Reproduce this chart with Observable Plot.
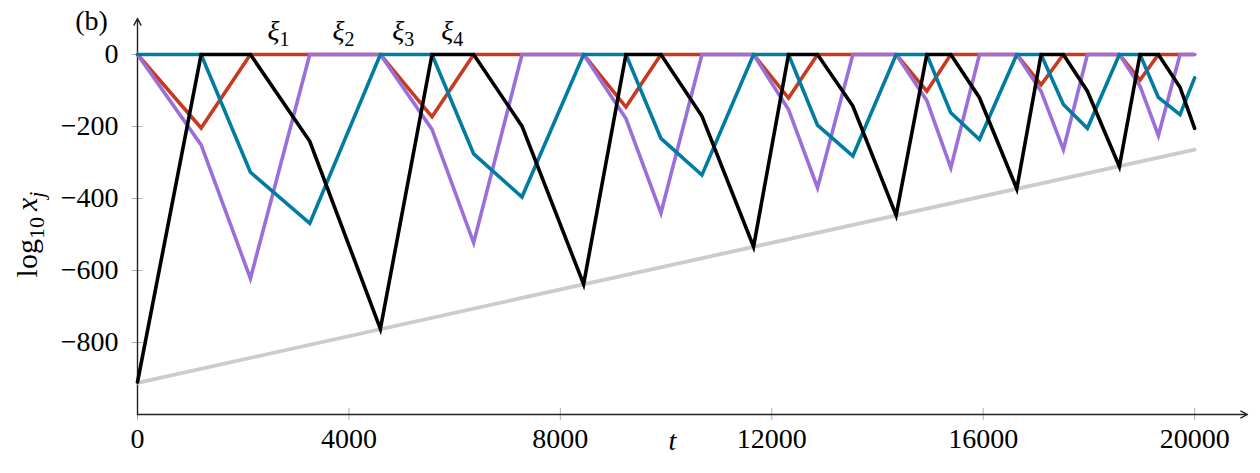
<!DOCTYPE html>
<html>
<head>
<meta charset="utf-8">
<script src="https://cdn.jsdelivr.net/npm/d3@7"></script>
<script src="https://cdn.jsdelivr.net/npm/@observablehq/plot@0.6"></script>
<style>
  html, body { margin: 0; padding: 0; background: #fff; }
  #chart { width: 1260px; height: 473px; }
</style>
</head>
<body>
<div id="chart"></div>
<script>
// Shared event times (switching times) t
const times = [0, 1204, 2136, 3259, 4595, 5572, 6360, 7274, 8440, 9241, 9903, 10678, 11655, 12317, 12865, 13534, 14353, 14933, 15387, 15929, 16635, 17095, 17517, 17971, 18576, 18967, 19314, 19723, 20000];

// log10 x_j values at those times
const xi1 = [0, -204, 0, 0, 0, -173, 0, 0, 0, -146, 0, 0, 0, -121, 0, 0, 0, -102, 0, 0, 0, -84, 0, 0, 0, -71, 0, 0, 0];
const xi2 = [0, -251, -622, 0, 0, -208, -523, 0, 0, -178, -440, 0, 0, -153, -370, 0, 0, -128, -315, 0, 0, -102, -264, 0, 0, -88, -225, 0, 0];
const xi3 = [0, 0, -327, -469, 0, 0, -276, -396, 0, 0, -233, -335, 0, 0, -196, -282, 0, 0, -162, -236, 0, 0, -139, -205, 0, 0, -119, -167, -65];
const xi4 = [-910, 0, 0, -241, -762, 0, 0, -199, -638, 0, 0, -171, -534, 0, 0, -143, -447, 0, 0, -120, -373, 0, 0, -102, -311, 0, 0, -91, -205];

// grey envelope line
const envT = [0, 20000];
const envV = [-912, -264];

const seriesNames = ["ξ1", "ξ2", "ξ3", "ξ4"];
const seriesColors = ["#c83a20", "#9a6fd9", "#007ba1", "#000000"];
const envColor = "#cccccc";

// annotation labels ξ_j above the plot (t, value)
const labelT = [2666, 3895, 5030, 5957];
const labelV = [64, 64, 64, 64];

const xTicks = [0, 4000, 8000, 12000, 16000, 20000];
const yTicks = [0, -200, -400, -600, -800];
const xDomain = [0, 21000];
const yDomain = [-1000, 100];

const FONT = "'Liberation Serif', 'DejaVu Serif', serif";

const allSeries = [xi1, xi2, xi3, xi4];
const rows = [];
allSeries.forEach((vals, k) => {
  vals.forEach((v, i) => rows.push({series: seriesNames[k], t: times[i], v}));
});
const env = envT.map((t, i) => ({t, v: envV[i]}));
const labels = seriesNames.map((s, i) => ({name: s, t: labelT[i], v: labelV[i]}));
const fmt = d => String(d).replace("-", "\u2212");

const plot = Plot.plot({
  width: 1260,
  height: 473,
  marginLeft: 137,
  marginRight: 13,
  marginTop: 18,
  marginBottom: 59,
  style: {fontFamily: FONT, fontSize: "28px", background: "#fff", color: "#000"},
  x: {domain: xDomain, label: null},
  y: {domain: yDomain, label: null},
  marks: [
    // tick marks crossing the axes
    Plot.axisX({ticks: xTicks, tickSize: 12, dy: -6, text: null, stroke: "#b0b0b0", strokeWidth: 1, label: null}),
    Plot.axisY({ticks: yTicks, tickSize: 11, dx: 5.5, text: null, stroke: "#b0b0b0", strokeWidth: 1, label: null}),
    // tick labels
    Plot.axisX({ticks: xTicks, tickSize: 0, tickPadding: 14, tickFormat: fmt, label: null, fontSize: 28}),
    Plot.axisY({ticks: yTicks, tickSize: 0, tickPadding: 19, tickFormat: fmt, label: null, fontSize: 28}),
    // axis lines with arrow heads
    Plot.arrow([{x1: xDomain[0], y1: yDomain[0], x2: xDomain[1], y2: yDomain[0]}],
      {x1: "x1", y1: "y1", x2: "x2", y2: "y2", stroke: "#222", strokeWidth: 1.4, headLength: 8, headAngle: 55}),
    Plot.arrow([{x1: xDomain[0], y1: yDomain[0], x2: xDomain[0], y2: yDomain[1]}],
      {x1: "x1", y1: "y1", x2: "x2", y2: "y2", stroke: "#222", strokeWidth: 1.4, headLength: 8, headAngle: 55}),
    // envelope
    Plot.line(env, {x: "t", y: "v", stroke: envColor, strokeWidth: 3.8}),
    // series
    ...seriesNames.map((s, k) => Plot.line(rows.filter(r => r.series === s), {
      x: "t", y: "v", stroke: seriesColors[k], strokeWidth: 3.6,
      strokeLinejoin: "miter", strokeMiterlimit: 10
    })),
    // series labels
    Plot.text(labels, {x: "t", y: "v", text: "name", fontSize: 28, fontStyle: "italic", fill: "#000", lineAnchor: "middle"}),
    // axis labels
    Plot.text(["t"], {frameAnchor: "bottom", dx: -20, dy: 27, fontSize: 28, fontStyle: "italic", lineAnchor: "middle", fill: "#000"}),
    Plot.text(["log10 xj"], {frameAnchor: "left", rotate: -90, fontSize: 30, lineAnchor: "middle", textAnchor: "middle", fill: "#000"}),
    Plot.text(["(b)"], {frameAnchor: "top-left", dx: -46, dy: 3, fontSize: 28, lineAnchor: "middle", textAnchor: "middle", fill: "#000"})
  ]
});

document.getElementById("chart").appendChild(plot);

// subscripts and label placement
const svg = d3.select(plot);
svg.selectAll("text").each(function() {
  const el = d3.select(this);
  const txt = this.textContent;
  const m = /^ξ(\d)$/.exec(txt);
  if (m) {
    el.text(null);
    el.append("tspan").style("font-style", "italic").text("ξ");
    el.append("tspan").attr("dy", "0.28em").attr("font-size", "20px").style("font-style", "normal").text(m[1]);
  } else if (txt === "log10 xj") {
    el.text(null);
    el.attr("transform", "translate(27,234) rotate(-90)");
    el.append("tspan").text("log");
    el.append("tspan").attr("dy", "0.3em").attr("font-size", "22px").text("10");
    el.append("tspan").attr("dy", "-0.21em").text("\u2009");
    el.append("tspan").style("font-style", "italic").text("x");
    el.append("tspan").attr("dy", "0.3em").attr("font-size", "22px").style("font-style", "italic").text("j");
  }
});
</script>
</body>
</html>
